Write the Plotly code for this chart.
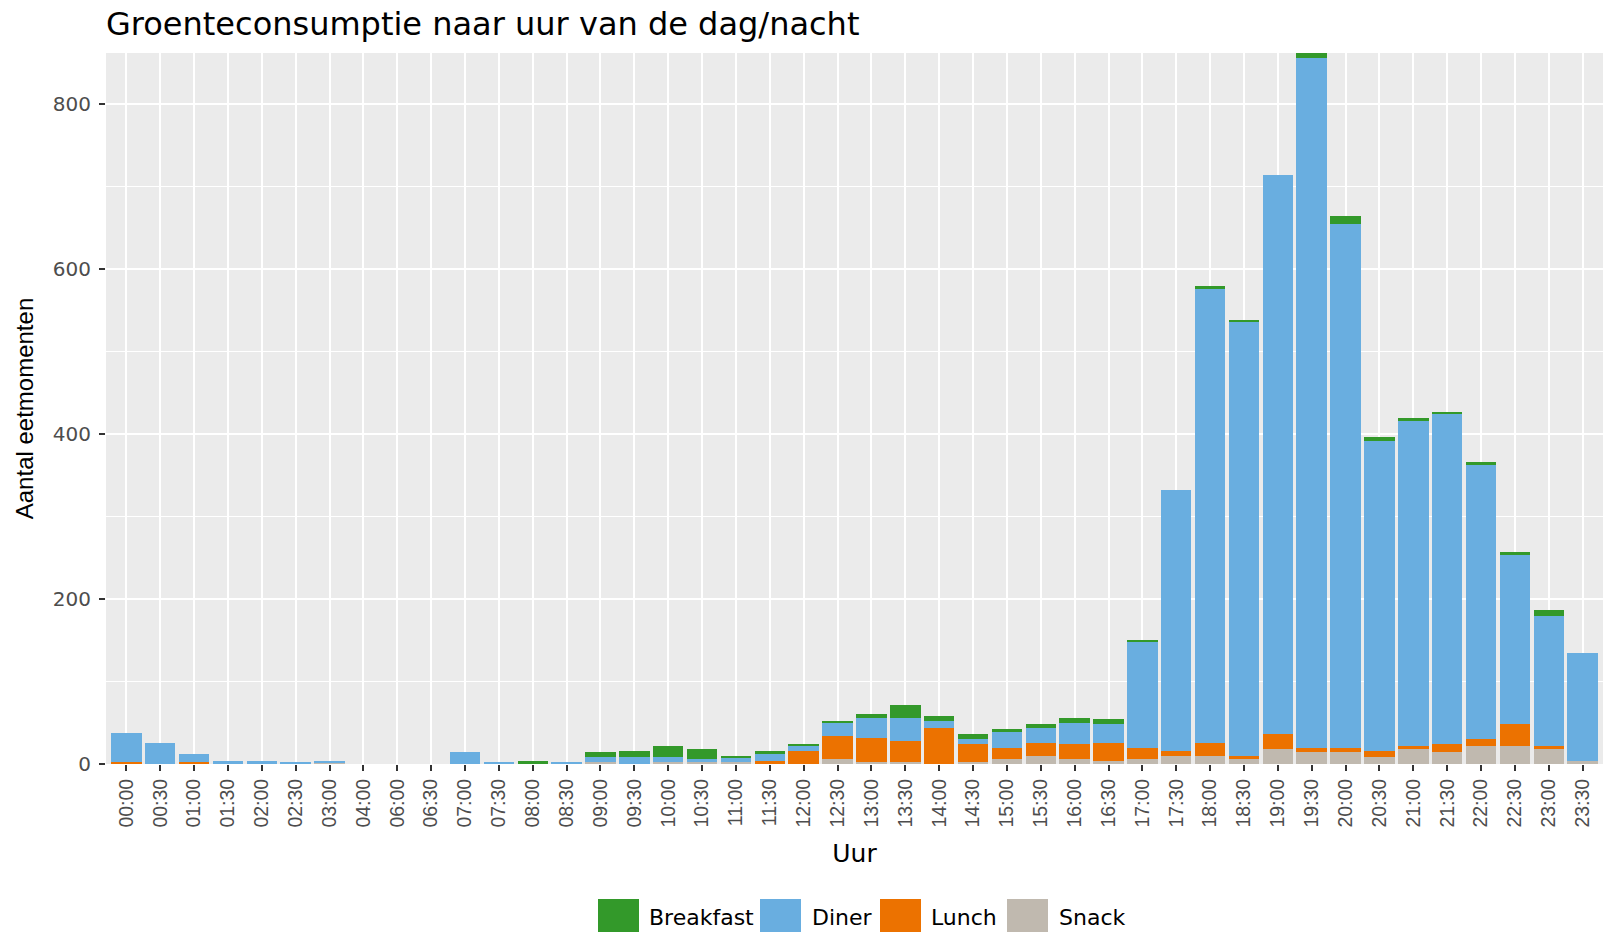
import plotly.graph_objects as go

uur = ["00:00", "00:30", "01:00", "01:30", "02:00", "02:30", "03:00", "04:00", "06:00", "06:30",
       "07:00", "07:30", "08:00", "08:30", "09:00", "09:30", "10:00", "10:30", "11:00", "11:30",
       "12:00", "12:30", "13:00", "13:30", "14:00", "14:30", "15:00", "15:30", "16:00", "16:30",
       "17:00", "17:30", "18:00", "18:30", "19:00", "19:30", "20:00", "20:30", "21:00", "21:30",
       "22:00", "22:30", "23:00", "23:30"]

breakfast = [0, 0, 0, 0, 0, 0, 0, 0, 0, 0,
             0, 0, 4, 0, 6, 8, 14, 12, 2, 4,
             2, 2, 5, 15, 6, 6, 2, 4, 6, 6,
             1, 0, 2, 2, 0, 6, 9, 5, 2, 2,
             4, 4, 7, 0]

diner = [35, 26, 9, 4, 4, 2, 3, 0, 0, 0,
         14, 2, 0, 2, 6, 8, 5, 3, 6, 8,
         6, 16, 24, 28, 8, 6, 20, 18, 26, 22,
         129, 316, 551, 526, 678, 836, 635, 376, 395, 401,
         332, 205, 158, 130]

lunch = [3, 0, 3, 0, 0, 0, 0, 0, 0, 0,
         0, 0, 0, 0, 0, 0, 0, 0, 0, 4,
         16, 28, 30, 26, 44, 22, 14, 16, 18, 22,
         14, 6, 16, 4, 18, 6, 6, 8, 4, 10,
         8, 26, 4, 0]

snack = [0, 0, 0, 0, 0, 0, 1, 0, 0, 0,
         0, 0, 0, 0, 2, 0, 3, 3, 2, 0,
         0, 6, 2, 2, 0, 2, 6, 10, 6, 4,
         6, 10, 10, 6, 18, 14, 14, 8, 18, 14,
         22, 22, 18, 4]

series_names = ["Breakfast", "Diner", "Lunch", "Snack"]
series_vals = {"Breakfast": breakfast, "Diner": diner, "Lunch": lunch, "Snack": snack}
colors = {"Breakfast": "#33992a", "Diner": "#69aee0", "Lunch": "#ec7200", "Snack": "#c0b9af"}

W, H = 1613, 932
L, R, T, B = 106, 10, 53, 168

fig = go.Figure()
# ggplot stacks first level on top -> add bottom-most first
for name in ["Snack", "Lunch", "Diner", "Breakfast"]:
    fig.add_trace(go.Bar(
        x=uur, y=series_vals[name], name=name,
        marker=dict(color=colors[name], line=dict(width=0)),
        showlegend=False,
    ))

fig.update_layout(
    width=W, height=H,
    barmode="stack", bargap=0.1,
    paper_bgcolor="white", plot_bgcolor="#EBEBEB",
    margin=dict(l=L, r=R, t=T, b=B, autoexpand=False),
    title=dict(text="Groenteconsumptie naar uur van de dag/nacht",
               font=dict(family="DejaVu Sans", size=32, color="black"),
               x=0, xref="paper", xanchor="left",
               y=1 - 24 / H, yref="container", yanchor="middle"),
    font=dict(family="DejaVu Sans"),
)

fig.update_xaxes(
    type="category", range=[-0.6, len(uur) - 0.4],
    showgrid=True, gridcolor="white", gridwidth=1.6,
    ticks="outside", ticklen=6, tickwidth=1.5, tickcolor="#333333",
    tickangle=-90,
    tickfont=dict(family="Liberation Sans", size=19.5, color="#4D4D4D"),
    showline=False, zeroline=False, automargin=False,
    title=dict(text="Uur", font=dict(family="DejaVu Sans", size=25, color="black"), standoff=17),
)

fig.update_yaxes(
    range=[0, 862], tickvals=[0, 200, 400, 600, 800],
    showgrid=True, gridcolor="white", gridwidth=1.6,
    minor=dict(tickvals=[100, 300, 500, 700], showgrid=True, gridcolor="white", gridwidth=0.8, ticks=""),
    ticks="outside", ticklen=6, tickwidth=1.5, tickcolor="#333333",
    tickfont=dict(family="DejaVu Sans", size=20, color="#4D4D4D"),
    ticklabelstandoff=4,
    showline=False, zeroline=False, automargin=False,
    title=dict(text="Aantal eetmomenten", font=dict(family="Liberation Sans", size=24, color="black"), standoff=12),
)

# legend drawn as keys + labels below the axis title
pw = W - L - R
ph = H - T - B

def px_x(x):
    return (x - L) / pw

def px_y(y):
    return (H - B - y) / ph

legend_items = [("Breakfast", 598, 647), ("Diner", 760, 810), ("Lunch", 880, 929), ("Snack", 1007, 1057)]
for name, kx, tx in legend_items:
    fig.add_shape(type="rect", xref="paper", yref="paper",
                  x0=px_x(kx), x1=px_x(kx + 41), y0=px_y(934), y1=px_y(899),
                  fillcolor=colors[name], line=dict(width=0), layer="above")
    fig.add_annotation(text=name, xref="paper", yref="paper",
                       x=px_x(tx), y=px_y(917), xanchor="left", yanchor="middle",
                       showarrow=False,
                       font=dict(family="DejaVu Sans", size=22, color="black"))

fig.write_html("out.html", config={"displayModeBar": False},
               post_script="document.body.style.margin='0px';")
